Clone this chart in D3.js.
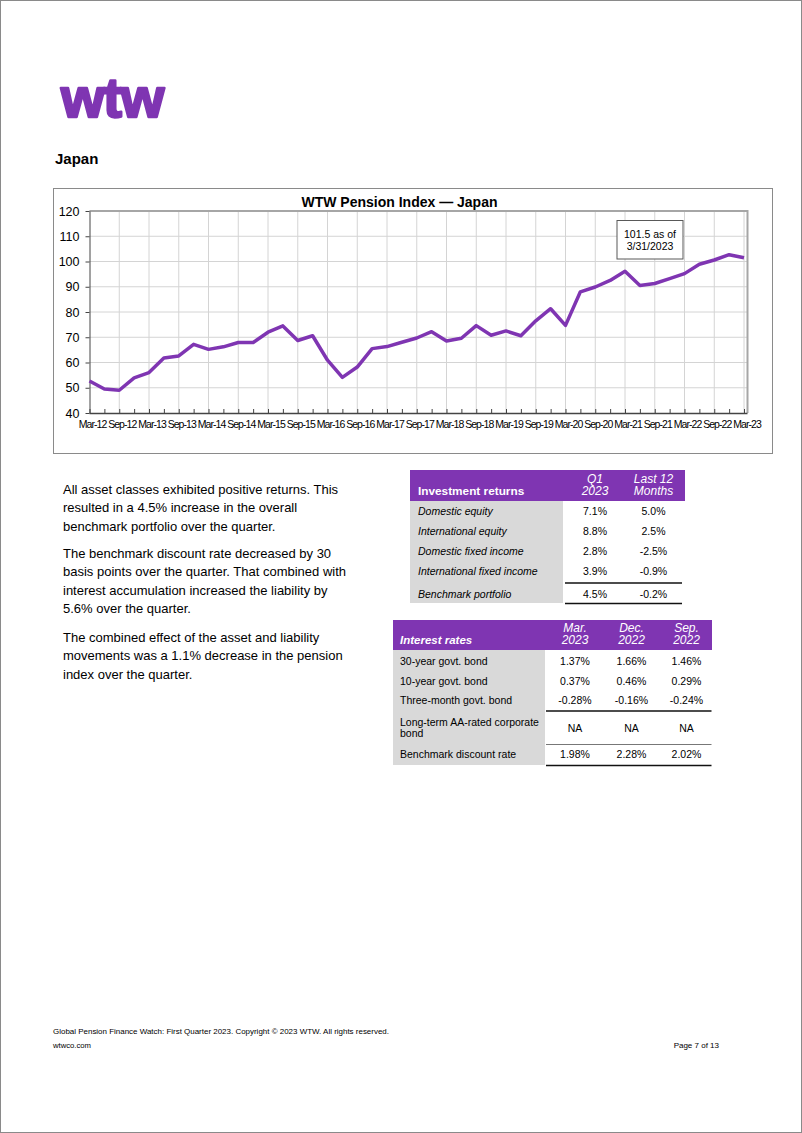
<!DOCTYPE html>
<html>
<head>
<meta charset="utf-8">
<script src="https://cdn.jsdelivr.net/npm/d3@7"></script>
<style>
  body { margin: 0; background: #fff; }
  svg { display: block; font-family: Arial, "Liberation Sans", sans-serif; }
</style>
</head>
<body>
<div id="page"></div>
<script>
// quarterly index values, Mar-12 .. Mar-23
const quarters = [
  "Mar-12","Jun-12","Sep-12","Dec-12","Mar-13","Jun-13","Sep-13","Dec-13",
  "Mar-14","Jun-14","Sep-14","Dec-14","Mar-15","Jun-15","Sep-15","Dec-15",
  "Mar-16","Jun-16","Sep-16","Dec-16","Mar-17","Jun-17","Sep-17","Dec-17",
  "Mar-18","Jun-18","Sep-18","Dec-18","Mar-19","Jun-19","Sep-19","Dec-19",
  "Mar-20","Jun-20","Sep-20","Dec-20","Mar-21","Jun-21","Sep-21","Dec-21",
  "Mar-22","Jun-22","Sep-22","Dec-22","Mar-23"
];
const indexValues = [
  52.7, 49.5, 49.0, 53.9, 56.0, 61.8, 62.6, 67.2,
  65.2, 66.2, 67.9, 67.9, 72.0, 74.5, 68.7, 70.6,
  60.9, 54.1, 58.2, 65.5, 66.3, 68.0, 69.7, 72.2,
  68.5, 69.6, 74.6, 70.8, 72.5, 70.6, 76.5, 81.3,
  74.7, 88.0, 89.9, 92.5, 96.1, 90.5, 91.3, 93.2,
  95.2, 98.9, 100.6, 102.7, 101.5
];
const tickLabels = [
  "Mar-12","Sep-12","Mar-13","Sep-13","Mar-14","Sep-14","Mar-15","Sep-15",
  "Mar-16","Sep-16","Mar-17","Sep-17","Mar-18","Sep-18","Mar-19","Sep-19",
  "Mar-20","Sep-20","Mar-21","Sep-21","Mar-22","Sep-22","Mar-23"
];
const yTicks = [40, 50, 60, 70, 80, 90, 100, 110, 120];

// investment returns table
const returnHead = [["Q1", "2023"], ["Last 12", "Months"]];
const returnRows = ["Domestic equity", "International equity", "Domestic fixed income",
  "International fixed income", "Benchmark portfolio"];
const returnQ1 = ["7.1%", "8.8%", "2.8%", "3.9%", "4.5%"];
const return12m = ["5.0%", "2.5%", "-2.5%", "-0.9%", "-0.2%"];

// interest rates table
const rateHead = [["Mar.", "2023"], ["Dec.", "2022"], ["Sep.", "2022"]];
const rateRows = [["30-year govt. bond"], ["10-year govt. bond"], ["Three-month govt. bond"],
  ["Long-term AA-rated corporate", "bond"], ["Benchmark discount rate"]];
const rateMar23 = ["1.37%", "0.37%", "-0.28%", "NA", "1.98%"];
const rateDec22 = ["1.66%", "0.46%", "-0.16%", "NA", "2.28%"];
const rateSep22 = ["1.46%", "0.29%", "-0.24%", "NA", "2.02%"];

const paragraphs = [
  ["All asset classes exhibited positive returns. This",
   "resulted in a 4.5% increase in the overall",
   "benchmark portfolio over the quarter."],
  ["The benchmark discount rate decreased by 30",
   "basis points over the quarter. That combined with",
   "interest accumulation increased the liability by",
   "5.6% over the quarter."],
  ["The combined effect of the asset and liability",
   "movements was a 1.1% decrease in the pension",
   "index over the quarter."]
];

const purple = "#7f35b2";
const W = 802, H = 1133;

const svg = d3.select("#page").append("svg")
  .attr("width", W).attr("height", H);

svg.append("rect")
  .attr("x", 0.5).attr("y", 0.5).attr("width", W - 1).attr("height", H - 1)
  .attr("fill", "#fff").attr("stroke", "#8a8a8a");

// logo + heading
svg.append("text")
  .attr("x", 61).attr("y", 117)
  .attr("font-size", 56).attr("font-weight", "bold")
  .attr("letter-spacing", -1.2)
  .attr("fill", purple).attr("stroke", purple).attr("stroke-width", 2.5)
  .attr("stroke-linejoin", "round")
  .text("wtw");

svg.append("text")
  .attr("x", 55).attr("y", 164)
  .attr("font-size", 15).attr("font-weight", "bold")
  .text("Japan");

// ---- chart ----
svg.append("rect")
  .attr("x", 53.5).attr("y", 188.5).attr("width", 719).attr("height", 265)
  .attr("fill", "#fff").attr("stroke", "#8a8a8a");

svg.append("text")
  .attr("x", 399.5).attr("y", 206.5)
  .attr("text-anchor", "middle")
  .attr("font-size", 14).attr("font-weight", "bold")
  .text("WTW Pension Index \u2014 Japan");

const plot = { left: 89.5, right: 744, top: 211, bottom: 413, frameRight: 747.5 };

let x = d3.scalePoint()
  .domain(quarters)
  .range([plot.left, plot.right]);

let y = d3.scaleLinear()
  .domain([40, 120])
  .range([plot.bottom, plot.top]);

// gridlines
svg.append("g")
  .selectAll("line")
  .data(yTicks.slice(1))
  .join("line")
  .attr("x1", plot.left).attr("x2", plot.frameRight)
  .attr("y1", d => y(d)).attr("y2", d => y(d))
  .attr("stroke", "#d4d4d4");

svg.append("g")
  .selectAll("line")
  .data(tickLabels.slice(1))
  .join("line")
  .attr("x1", d => x(d)).attr("x2", d => x(d))
  .attr("y1", plot.top).attr("y2", plot.bottom)
  .attr("stroke", "#d4d4d4");

// plot frame top / right
svg.append("path")
  .attr("d", `M${plot.left},${plot.top} H${plot.frameRight} V${plot.bottom}`)
  .attr("fill", "none").attr("stroke", "#a6a6a6").attr("stroke-width", 2);

// y axis
let yAxis = svg.append("g")
  .attr("transform", `translate(${plot.left},0)`)
  .call(d3.axisLeft(y).tickValues(yTicks).tickSize(4).tickPadding(6).tickSizeOuter(0));
yAxis.select(".domain").attr("stroke", "#444");
yAxis.selectAll(".tick line").attr("stroke", "#444");
yAxis.selectAll("text")
  .attr("font-family", "Arial, 'Liberation Sans', sans-serif")
  .attr("font-size", 12.5).attr("fill", "#000");

// x axis: quarter ticks inside, labels every half year
let xMinor = svg.append("g")
  .attr("transform", `translate(0,${plot.bottom})`)
  .call(d3.axisBottom(x).tickSize(-4).tickSizeOuter(0).tickFormat(""));
xMinor.select(".domain").attr("stroke", "#444").attr("stroke-width", 1.5)
  .attr("d", `M${plot.left},0.5H${plot.frameRight}`);
xMinor.selectAll(".tick line").attr("stroke", "#444");

let xAxis = svg.append("g")
  .attr("transform", `translate(0,${plot.bottom})`)
  .call(d3.axisBottom(x).tickValues(tickLabels).tickSize(0).tickPadding(8));
xAxis.select(".domain").remove();
xAxis.selectAll("text")
  .attr("font-family", "Arial, 'Liberation Sans', sans-serif")
  .attr("font-size", 10.5).attr("letter-spacing", -0.95)
  .attr("dx", 2.5).attr("fill", "#000");

// index line
let line = d3.line()
  .x((d, i) => x(quarters[i]))
  .y(d => y(d));

svg.append("path")
  .datum(indexValues)
  .attr("d", line)
  .attr("fill", "none")
  .attr("stroke", purple)
  .attr("stroke-width", 3.5)
  .attr("stroke-linejoin", "round");

// annotation box
let note = svg.append("g");
note.append("rect")
  .attr("x", 617).attr("y", 220.5).attr("width", 66).attr("height", 38.5)
  .attr("fill", "#fff").attr("stroke", "#595959");
note.selectAll("text")
  .data(["101.5 as of", "3/31/2023"])
  .join("text")
  .attr("x", 650).attr("y", (d, i) => 238 + i * 11.5)
  .attr("text-anchor", "middle").attr("font-size", 10.5)
  .text(d => d);

// ---- commentary ----
let paraTop = [494, 558, 642];
paragraphs.forEach(function (lines, p) {
  svg.append("g").selectAll("text")
    .data(lines)
    .join("text")
    .attr("x", 63).attr("y", (d, i) => paraTop[p] + i * 18.3)
    .attr("font-size", 13)
    .text(d => d);
});

// ---- investment returns table ----
let t1 = svg.append("g");
t1.append("rect").attr("x", 410).attr("y", 470).attr("width", 275).attr("height", 31).attr("fill", purple);
t1.append("rect").attr("x", 410).attr("y", 501).attr("width", 153).attr("height", 102).attr("fill", "#d9d9d9");
t1.append("text").attr("x", 418).attr("y", 495)
  .attr("font-size", 11.8).attr("font-weight", "bold").attr("fill", "#fff")
  .text("Investment returns");

let t1Cols = [595, 653.5];
returnHead.forEach(function (h, c) {
  t1.selectAll(null).data(h).join("text")
    .attr("x", t1Cols[c]).attr("y", (d, i) => 483 + i * 12)
    .attr("text-anchor", "middle").attr("font-size", 12)
    .attr("font-style", "italic").attr("fill", "#fff")
    .text(d => d);
});

let t1RowY = (i) => i < 4 ? 515 + i * 20 : 597.5;
t1.selectAll(null).data(returnRows).join("text")
  .attr("x", 418).attr("y", (d, i) => t1RowY(i))
  .attr("font-size", 10.5).attr("font-style", "italic")
  .text(d => d);
[returnQ1, return12m].forEach(function (col, c) {
  t1.selectAll(null).data(col).join("text")
    .attr("x", t1Cols[c]).attr("y", (d, i) => t1RowY(i))
    .attr("text-anchor", "middle").attr("font-size", 10.5)
    .text(d => d);
});
[583, 603.5].forEach(function (ly) {
  t1.append("line").attr("x1", 565).attr("x2", 682).attr("y1", ly).attr("y2", ly)
    .attr("stroke", "#111").attr("stroke-width", 1.5);
});

// ---- interest rates table ----
let t2 = svg.append("g");
t2.append("rect").attr("x", 393).attr("y", 620).attr("width", 319).attr("height", 30).attr("fill", purple);
t2.append("rect").attr("x", 393).attr("y", 650).attr("width", 152).attr("height", 115).attr("fill", "#d9d9d9");
t2.append("text").attr("x", 400).attr("y", 643.5)
  .attr("font-size", 11.5).attr("font-weight", "bold").attr("font-style", "italic").attr("fill", "#fff")
  .text("Interest rates");

let t2Cols = [575, 631.5, 686.5];
rateHead.forEach(function (h, c) {
  t2.selectAll(null).data(h).join("text")
    .attr("x", t2Cols[c]).attr("y", (d, i) => 631.5 + i * 12.5)
    .attr("text-anchor", "middle").attr("font-size", 12)
    .attr("font-style", "italic").attr("fill", "#fff")
    .text(d => d);
});

let t2RowY = [665, 684.7, 704.3, 731.5, 758.3];
rateRows.forEach(function (lines, r) {
  t2.selectAll(null).data(lines).join("text")
    .attr("x", 400)
    .attr("y", (d, i) => lines.length > 1 ? 726 + i * 11 : t2RowY[r])
    .attr("font-size", 10.5)
    .text(d => d);
});
[rateMar23, rateDec22, rateSep22].forEach(function (col, c) {
  t2.selectAll(null).data(col).join("text")
    .attr("x", t2Cols[c]).attr("y", (d, i) => t2RowY[i])
    .attr("text-anchor", "middle").attr("font-size", 10.5)
    .text(d => d);
});
t2.append("line").attr("x1", 546).attr("x2", 711.5).attr("y1", 711).attr("y2", 711)
  .attr("stroke", "#111").attr("stroke-width", 1.5);
t2.append("line").attr("x1", 546).attr("x2", 711.5).attr("y1", 744.5).attr("y2", 744.5)
  .attr("stroke", "#777").attr("stroke-width", 1);
t2.append("line").attr("x1", 546).attr("x2", 711.5).attr("y1", 765.5).attr("y2", 765.5)
  .attr("stroke", "#111").attr("stroke-width", 1.5);

// ---- footer ----
svg.append("text").attr("x", 53).attr("y", 1034)
  .attr("font-size", 8).attr("textLength", 336).attr("lengthAdjust", "spacingAndGlyphs")
  .text("Global Pension Finance Watch: First Quarter 2023.  Copyright \u00a9 2023 WTW. All rights reserved.");
svg.append("text").attr("x", 53).attr("y", 1048)
  .attr("font-size", 8).attr("textLength", 38).attr("lengthAdjust", "spacingAndGlyphs")
  .text("wtwco.com");
svg.append("text").attr("x", 719).attr("y", 1048)
  .attr("font-size", 8).attr("text-anchor", "end")
  .text("Page 7 of 13");
</script>
</body>
</html>
